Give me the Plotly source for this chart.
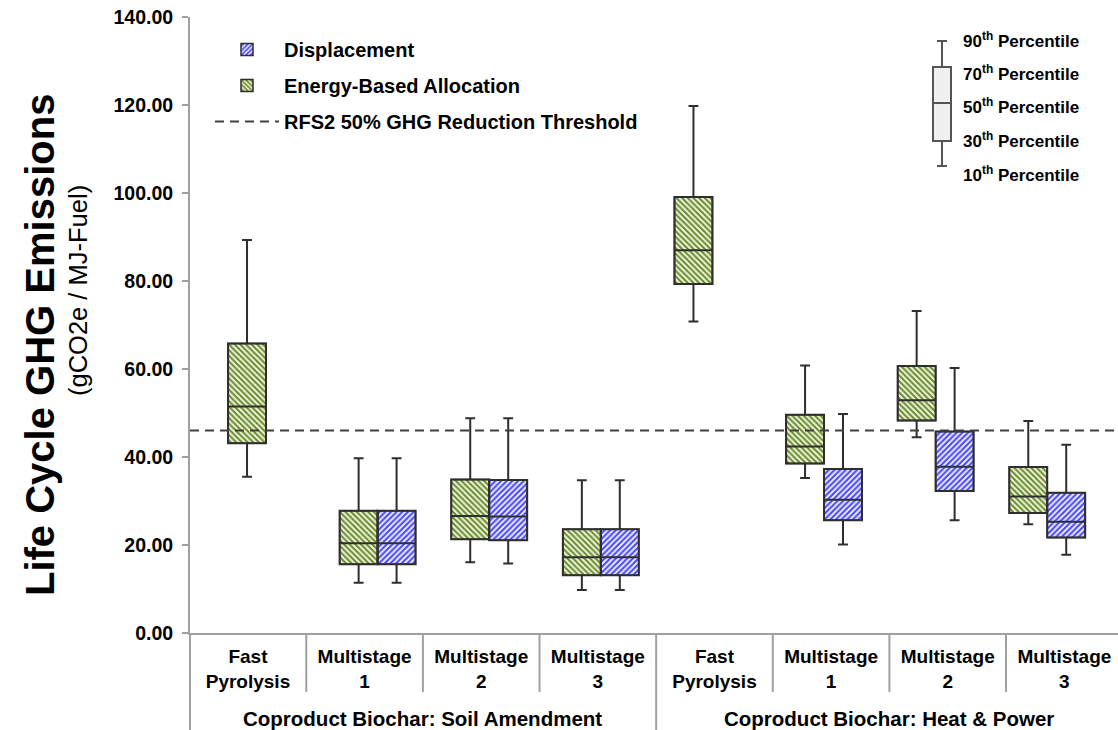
import plotly.graph_objects as go

# ---------------- data ----------------
groups = ["Coproduct Biochar: Soil Amendment"] * 4 + ["Coproduct Biochar: Heat & Power"] * 4
pathways = ["Fast<br>Pyrolysis", "Multistage<br>1", "Multistage<br>2", "Multistage<br>3"] * 2

# Energy-Based Allocation (percentiles)
eba_p10 = [35.5, 11.4, 16.1, 9.8, 70.8, 35.2, 44.5, 24.7]
eba_p30 = [43.1, 15.6, 21.3, 13.1, 79.3, 38.5, 48.3, 27.3]
eba_p50 = [51.5, 20.4, 26.6, 17.2, 87.0, 42.4, 52.9, 31.0]
eba_p70 = [65.8, 27.8, 34.9, 23.6, 99.1, 49.6, 60.7, 37.7]
eba_p90 = [89.3, 39.7, 48.8, 34.7, 119.8, 60.8, 73.2, 48.2]

# Displacement (percentiles)
disp_p10 = [None, 11.4, 15.8, 9.8, None, 20.1, 25.6, 17.8]
disp_p30 = [None, 15.6, 21.1, 13.1, None, 25.6, 32.3, 21.7]
disp_p50 = [None, 20.4, 26.5, 17.2, None, 30.3, 37.8, 25.3]
disp_p70 = [None, 27.8, 34.8, 23.6, None, 37.3, 45.8, 31.9]
disp_p90 = [None, 39.7, 48.8, 34.7, None, 49.8, 60.2, 42.8]

threshold = 46.0
y_ticks = [0, 20, 40, 60, 80, 100, 120, 140]
key_labels = ["90<sup>th</sup> Percentile", "70<sup>th</sup> Percentile", "50<sup>th</sup> Percentile",
              "30<sup>th</sup> Percentile", "10<sup>th</sup> Percentile"]

# ---------------- styling ----------------
FONT = "Liberation Sans, Arial, sans-serif"
AXIS_GRAY = "#a0a0a0"
BOX_LINE = "#2e2e2e"
W, H = 1118, 730
L, R, T, B = 190, 0, 17, 97
PW, PH = W - L - R, H - T - B
BOX_RANGE = [-0.681, 7.634]
LABEL_RANGE = [-0.497, 7.46]


def px(xp):
    return (xp - L) / PW


def py(yp):
    return (H - B - yp) / PH


def cat2paper(v, rng):
    return (v - rng[0]) / (rng[1] - rng[0])


def keep(vals, ref):
    return [v for v, r in zip(vals, ref) if r is not None]


# unique category keys
cat_keys = [g + " | " + p for g, p in zip(groups, pathways)]

fig = go.Figure()

series = [
    ("Energy-Based Allocation", eba_p10, eba_p30, eba_p50, eba_p70, eba_p90,
     "\\", "#688a26", "#f0f5e4", 2),
    ("Displacement", disp_p10, disp_p30, disp_p50, disp_p70, disp_p90,
     "/", "#4646ff", "#ededff", 1),
]

# hatched fills (bars spanning 30th-70th percentile)
for name, p10, p30, p50, p70, p90, shp, fg, bg, rank in series:
    xk = keep(cat_keys, p50)
    lo = keep(p30, p50)
    hi = keep(p70, p50)
    fig.add_trace(go.Bar(
        x=xk, y=[h - l for h, l in zip(hi, lo)], base=lo,
        name=name, legendrank=rank, legendgroup=name,
        marker=dict(color=bg, line=dict(color=BOX_LINE, width=1.5),
                    pattern=dict(shape=shp, fgcolor=fg, bgcolor=bg, size=4,
                                 solidity=0.5, fillmode="replace")),
        hoverinfo="skip",
    ))

# box outlines, medians and whiskers
for name, p10, p30, p50, p70, p90, shp, fg, bg, rank in series:
    xk = keep(cat_keys, p50)
    fig.add_trace(go.Box(
        x=xk,
        lowerfence=keep(p10, p50), q1=keep(p30, p50), median=keep(p50, p50),
        q3=keep(p70, p50), upperfence=keep(p90, p50),
        fillcolor="rgba(0,0,0,0)", line=dict(color=BOX_LINE, width=2),
        whiskerwidth=0.26, showlegend=False, hoverinfo="skip", name=name,
    ))

# invisible trace carrying the category label axis
fig.add_trace(go.Scatter(x=cat_keys, y=eba_p50, xaxis="x2",
                         mode="markers", marker=dict(opacity=0),
                         showlegend=False, hoverinfo="skip"))

# threshold line (with legend entry)
fig.add_shape(type="line", xref="paper", x0=0, x1=1, yref="y", y0=threshold, y1=threshold,
              line=dict(color="#404040", width=2, dash="9px,6px"),
              showlegend=True, name="RFS2 50% GHG Reduction Threshold",
              legendrank=3, legendgroup="thr")

# dividers below the axis + group labels
n = len(pathways)
for i in range(n - 1):
    xx = cat2paper(i + 0.5, LABEL_RANGE)
    bottom = py(692) if groups[i] == groups[i + 1] else py(730)
    fig.add_shape(type="line", xref="paper", x0=xx, x1=xx,
                  yref="paper", y0=0, y1=bottom,
                  line=dict(color=AXIS_GRAY, width=2))
group_names = list(dict.fromkeys(groups))
for gname in group_names:
    idx = [i for i, g in enumerate(groups) if g == gname]
    center = sum(idx) / len(idx)
    fig.add_annotation(text=gname, xref="paper", yref="paper",
                       x=cat2paper(center, LABEL_RANGE), y=py(718),
                       xanchor="center", yanchor="middle", showarrow=False,
                       font=dict(family=FONT, size=20.5, color="black", weight="bold"))
# extension of the y-axis line through the label area
fig.add_shape(type="line", xref="paper", x0=0, x1=0, yref="paper", y0=0, y1=py(730),
              line=dict(color=AXIS_GRAY, width=2))

# percentile key
kx0, kx1, kc = 933, 951, 942
ky = [41, 67, 103, 141, 166]
KEY = "#555555"
fig.add_shape(type="line", xref="paper", yref="paper", x0=px(kc), x1=px(kc), y0=py(ky[0]), y1=py(ky[1]),
              line=dict(color=KEY, width=2))
fig.add_shape(type="line", xref="paper", yref="paper", x0=px(kc), x1=px(kc), y0=py(ky[3]), y1=py(ky[4]),
              line=dict(color=KEY, width=2))
for yy in (ky[0], ky[4]):
    fig.add_shape(type="line", xref="paper", yref="paper", x0=px(kc - 5), x1=px(kc + 5), y0=py(yy), y1=py(yy),
                  line=dict(color=KEY, width=2))
fig.add_shape(type="rect", xref="paper", yref="paper", x0=px(kx0), x1=px(kx1), y0=py(ky[1]), y1=py(ky[3]),
              fillcolor="#f0f0f0", line=dict(color=KEY, width=2))
fig.add_shape(type="line", xref="paper", yref="paper", x0=px(kx0), x1=px(kx1), y0=py(ky[2]), y1=py(ky[2]),
              line=dict(color=KEY, width=2))
label_y = [40, 73, 106, 140, 174]
for txt, yy in zip(key_labels, label_y):
    fig.add_annotation(text=txt, xref="paper", yref="paper", x=px(961), y=py(yy),
                       xanchor="left", yanchor="middle", showarrow=False,
                       font=dict(family=FONT, size=17, color="black", weight="bold"))

# y-axis titles
fig.add_annotation(text="Life Cycle GHG Emissions", textangle=-90, xref="paper", yref="paper",
                   x=px(40), y=py(345), xanchor="center", yanchor="middle", showarrow=False,
                   font=dict(family=FONT, size=40, color="black", weight="bold"))
fig.add_annotation(text="(gCO2e / MJ-Fuel)", textangle=-90, xref="paper", yref="paper",
                   x=px(78), y=py(291), xanchor="center", yanchor="middle", showarrow=False,
                   font=dict(family=FONT, size=25.5, color="black"))

fig.update_layout(
    width=W, height=H,
    margin=dict(l=L, r=R, t=T, b=B, autoexpand=False),
    plot_bgcolor="white", paper_bgcolor="white",
    barmode="group", bargap=0.32, bargroupgap=0,
    boxmode="group", boxgap=0.32, boxgroupgap=0,
    showlegend=True,
    legend=dict(x=px(210), y=py(30), xanchor="left", yanchor="top",
                font=dict(family=FONT, size=20, color="black", weight="bold"),
                bgcolor="rgba(0,0,0,0)", tracegroupgap=7, itemwidth=64,
                traceorder="grouped"),
    xaxis=dict(type="category", range=BOX_RANGE, showticklabels=False,
               ticks="", showgrid=False, zeroline=False,
               showline=True, linecolor=AXIS_GRAY, linewidth=2),
    xaxis2=dict(type="category", overlaying="x", anchor="y", side="bottom",
                range=LABEL_RANGE, tickvals=cat_keys, ticktext=pathways,
                ticks="", showgrid=False, zeroline=False, showline=False,
                ticklabelstandoff=10,
                tickfont=dict(family=FONT, size=19, color="black", weight="bold")),
    yaxis=dict(range=[0, 140], tickvals=y_ticks, tickformat=".2f", ticks="outside",
               ticklen=6, tickwidth=2, tickcolor=AXIS_GRAY, showline=True,
               linecolor=AXIS_GRAY, linewidth=2, showgrid=False, zeroline=False,
               ticklabelstandoff=5,
               tickfont=dict(family=FONT, size=19.5, color="black", weight="bold")),
)

fig.write_html("out.html")
